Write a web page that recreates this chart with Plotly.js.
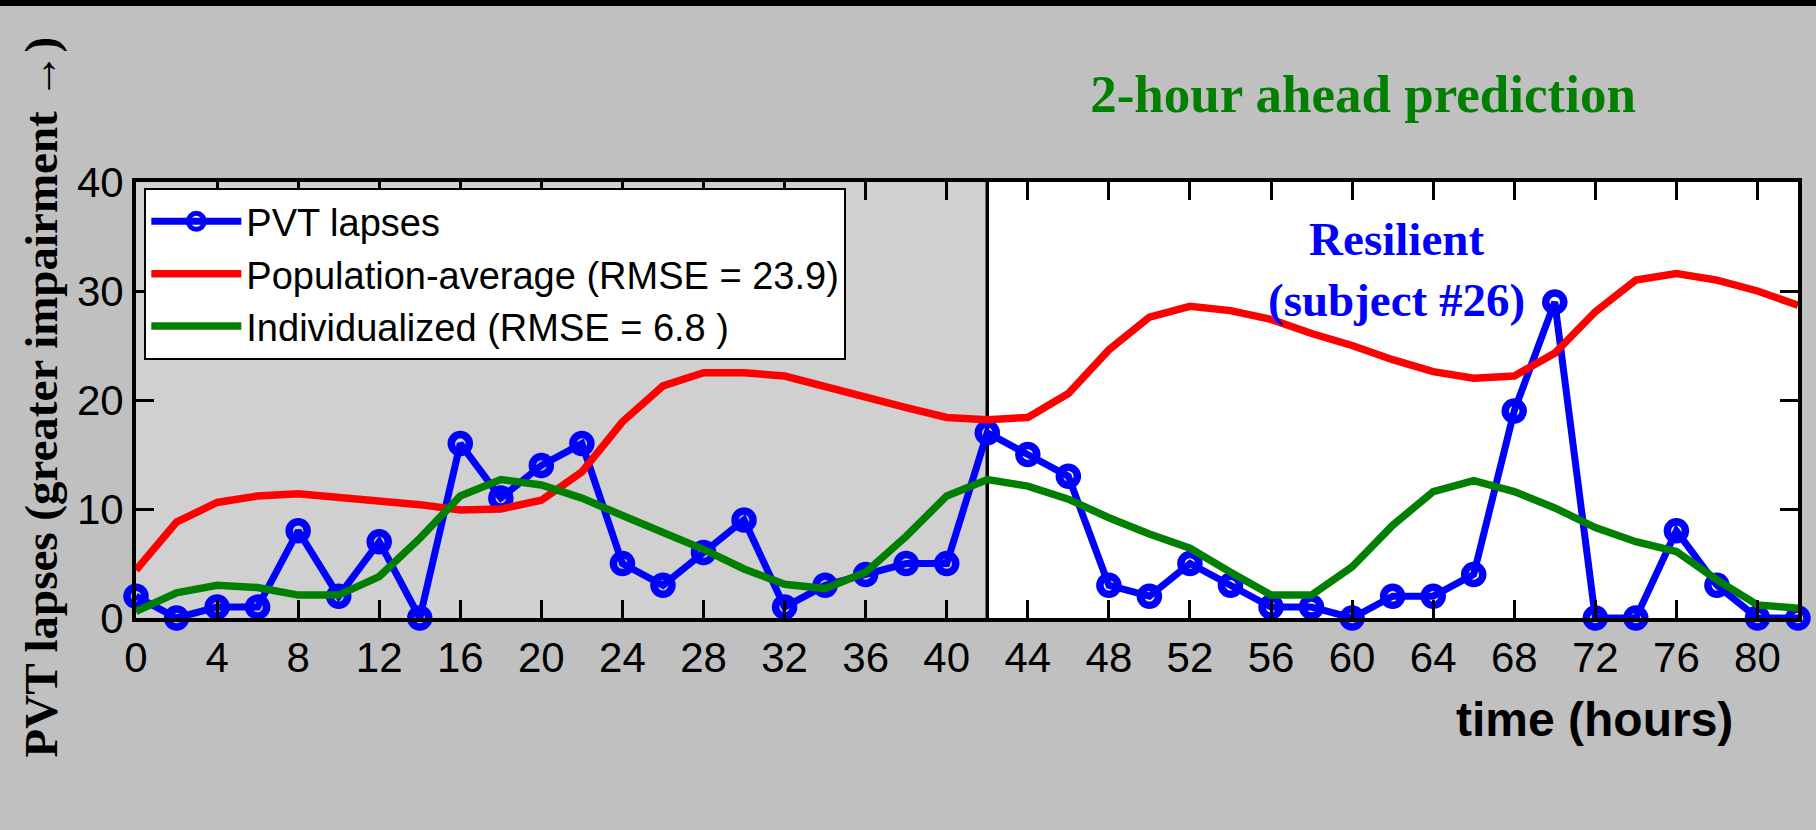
<!DOCTYPE html>
<html>
<head>
<meta charset="utf-8">
<script src="https://cdn.plot.ly/plotly-3.0.1.min.js"></script>
<style>
  html, body { margin: 0; padding: 0; background: #c0c0c0; }
  #wrap { position: relative; width: 1816px; height: 830px; }
  #topbar { position: absolute; left: 0; top: 0; width: 1816px; height: 6px; background: #000; z-index: 10; }
  #chart { position: absolute; left: 0; top: 0; width: 1816px; height: 830px; }
</style>
</head>
<body>
<div id="wrap">
  <div id="chart"></div>
  <div id="topbar"></div>
</div>
<script>
// time (hours)
const hours = [0,2,4,6,8,10,12,14,16,18,20,22,24,26,28,30,32,34,36,38,40,
               42,44,46,48,50,52,54,56,58,60,62,64,66,68,70,72,74,76,78,80,82];
// PVT lapses (observed)
const pvtLapses = [2,0,1,1,8,2,7,0,16,11,14,16,5,3,6,9,1,3,4,5,5,
                   17,15,13,3,2,5,3,1,1,0,2,2,4,19,29,0,0,8,3,0,0];
// Population-average model prediction
const populationAvg = [4.4,8.8,10.6,11.2,11.4,11.1,10.8,10.4,9.9,10.0,10.8,13.4,18.0,21.3,22.5,22.5,22.2,21.2,20.3,19.3,18.4,
                       18.2,18.4,20.6,24.6,27.6,28.6,28.2,27.4,26.1,25.0,23.7,22.6,22.0,22.2,24.3,28.1,31.0,31.6,31.0,30.0,28.7];
// Individualized model prediction
const individualized = [0.6,2.3,3.0,2.8,2.1,2.1,3.8,7.3,11.2,12.7,12.2,11.0,9.4,7.8,6.3,4.5,3.1,2.7,4.2,7.5,11.2,
                        12.7,12.1,10.9,9.2,7.7,6.4,4.2,2.1,2.1,4.7,8.5,11.6,12.6,11.6,10.1,8.3,7.0,6.1,3.5,1.2,0.9];

const seriesNames = ['PVT lapses', 'Population-average (RMSE = 23.9)', 'Individualized (RMSE = 6.8 )'];
const xTickVals = [0,4,8,12,16,20,24,28,32,36,40,44,48,52,56,60,64,68,72,76,80];
const yTickVals = [0,10,20,30,40];
const xRange = [0, 82];
const yRange = [0, 40];
const trainingEnd = 42;

const sans = '"Liberation Sans", Arial, Helvetica, sans-serif';
const serif = '"Liberation Serif", "Times New Roman", Times, serif';

const traces = [
  {
    x: hours, y: pvtLapses, name: seriesNames[0], type: 'scatter', mode: 'lines+markers',
    line: { color: '#0000ff', width: 7 },
    marker: { symbol: 'circle-open', size: 18, color: '#0000ff', line: { color: '#0000ff', width: 7.5 } },
    cliponaxis: false
  },
  {
    x: hours, y: populationAvg, name: seriesNames[1], type: 'scatter', mode: 'lines',
    line: { color: '#ff0000', width: 7.5 }, cliponaxis: false
  },
  {
    x: hours, y: individualized, name: seriesNames[2], type: 'scatter', mode: 'lines',
    line: { color: '#007f00', width: 7.5 }, cliponaxis: false
  }
];

const axisCommon = {
  ticks: 'inside', ticklen: 18, tickwidth: 3, tickcolor: '#000',
  showline: true, linewidth: 4, linecolor: '#000', mirror: 'ticks',
  showgrid: false, zeroline: false,
  tickfont: { family: sans, size: 42, color: '#000' }
};

const layout = {
  width: 1816, height: 830,
  margin: { l: 136, r: 18, t: 182, b: 212, pad: 0 },
  paper_bgcolor: '#c0c0c0',
  plot_bgcolor: '#ffffff',
  showlegend: true,
  title: {
    text: '<b>2-hour ahead prediction</b>',
    font: { family: serif, size: 53, color: '#007f00' },
    xref: 'paper', x: 0.7383, xanchor: 'center',
    yref: 'container', y: 0.8874, yanchor: 'middle'
  },
  xaxis: Object.assign({}, axisCommon, { range: xRange, tickmode: 'array', tickvals: xTickVals }),
  yaxis: Object.assign({}, axisCommon, { range: yRange, tickmode: 'array', tickvals: yTickVals }),
  legend: {
    x: 0.005, y: 0.986, xanchor: 'left', yanchor: 'top',
    bgcolor: '#ffffff', bordercolor: '#000', borderwidth: 2,
    font: { family: sans, size: 38, color: '#000' },
    itemwidth: 90, tracegroupgap: 0
  },
  shapes: [
    { type: 'rect', xref: 'x', yref: 'paper', x0: xRange[0], x1: trainingEnd, y0: 0, y1: 1,
      fillcolor: '#d0d0d0', line: { width: 0 }, layer: 'below' },
    { type: 'line', xref: 'x', yref: 'paper', x0: trainingEnd, x1: trainingEnd, y0: 0, y1: 1,
      line: { color: '#000', width: 3.5 }, layer: 'below' }
  ],
  annotations: [
    { text: '<b>Resilient</b><br><b>(subject #26)</b>', xref: 'x', yref: 'y', x: 62.2, y: 32.0,
      xanchor: 'center', yanchor: 'middle', showarrow: false,
      font: { family: serif, size: 47, color: '#0000ff' } },
    { text: '<b>time (hours)</b>', xref: 'paper', yref: 'paper', x: 0.8776, y: -0.2317,
      xanchor: 'center', yanchor: 'middle', showarrow: false,
      font: { family: sans, size: 48, color: '#000' } },
    { text: '<b>PVT lapses (greater impairment \u2192)</b>', xref: 'paper', yref: 'paper', x: -0.0572, y: 0.508,
      xanchor: 'center', yanchor: 'middle', showarrow: false, textangle: -90,
      font: { family: serif, size: 47, color: '#000' } }
  ]
};

Plotly.newPlot('chart', traces, layout, { displayModeBar: false, staticPlot: true });
</script>
</body>
</html>
